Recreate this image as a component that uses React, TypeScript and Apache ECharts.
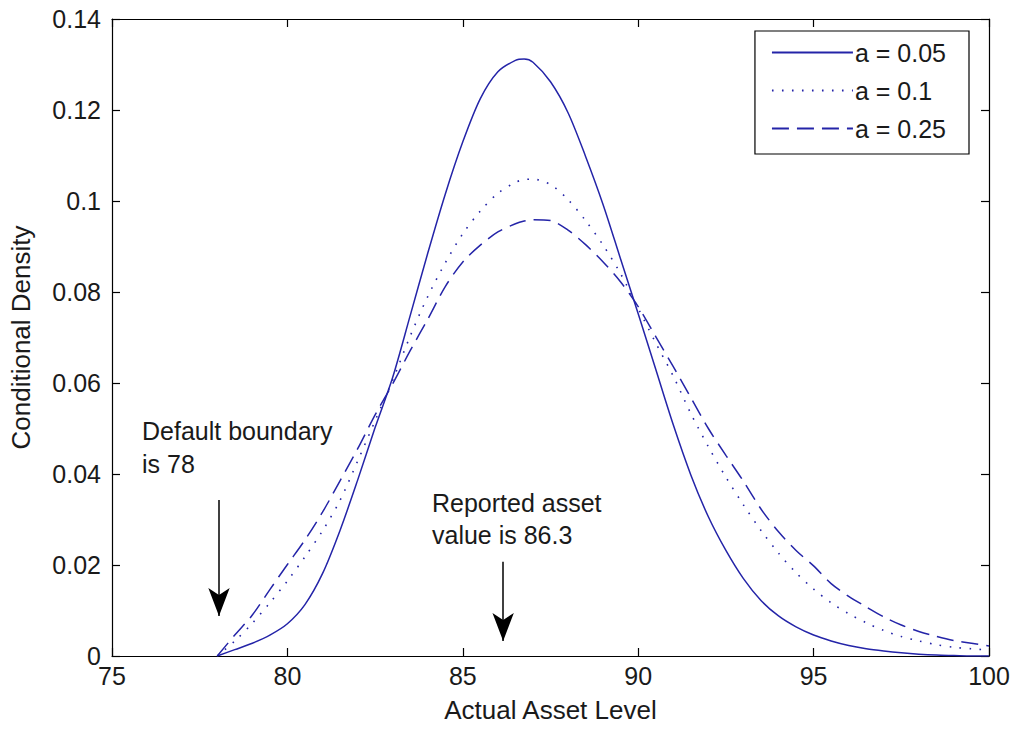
import React, { useEffect, useRef } from "react";
import * as echarts from "echarts";

// Actual asset level (x) at which the densities were read
const assetLevels = [
  78, 78.5, 79, 79.5, 80, 80.5, 81, 81.5, 82, 82.5, 83, 83.5, 84, 84.5, 85, 85.5,
  86, 86.5, 86.75, 87, 87.5, 88, 88.5, 89, 89.5, 90, 90.5, 91, 91.5, 92, 92.5, 93, 93.5,
  94, 94.5, 95, 95.5, 96, 96.5, 97, 97.5, 98, 98.5, 99, 99.5, 100,
];

// Conditional density, a = 0.05 (solid)
const densityA005 = [
  0, 0.0014, 0.0028, 0.0046, 0.0071, 0.0113, 0.0181, 0.0276, 0.0386, 0.0502,
  0.0612, 0.0748, 0.0885, 0.1015, 0.113, 0.1225, 0.1284, 0.1309, 0.1312, 0.1305, 0.1262,
  0.1194, 0.1098, 0.0992, 0.0872, 0.0752, 0.063, 0.0508, 0.0398, 0.0306, 0.0232,
  0.017, 0.0122, 0.0088, 0.0064, 0.0046, 0.0033, 0.0023, 0.0016, 0.0011, 0.0007,
  0.0004, 0.0002, 0.0001, 0, 0,
];

// Conditional density, a = 0.1 (dotted)
const densityA01 = [
  0, 0.0033, 0.0072, 0.0117, 0.0165, 0.0218, 0.0275, 0.0342, 0.0428, 0.0517,
  0.0606, 0.0703, 0.079, 0.0864, 0.0928, 0.0978, 0.1017, 0.1041, 0.1047, 0.1048, 0.1036,
  0.1003, 0.0957, 0.0903, 0.084, 0.0764, 0.0688, 0.0615, 0.0533, 0.046, 0.0393,
  0.0332, 0.0276, 0.0226, 0.0183, 0.0147, 0.0117, 0.0093, 0.0073, 0.0056, 0.0043,
  0.0033, 0.0025, 0.0019, 0.0016, 0.0013,
];

// Conditional density, a = 0.25 (dashed)
const densityA025 = [
  0, 0.0046, 0.009, 0.0146, 0.0201, 0.0255, 0.0316, 0.0385, 0.0455, 0.053,
  0.0598, 0.0671, 0.074, 0.0812, 0.0866, 0.0903, 0.0932, 0.095, 0.0956, 0.0959, 0.0957,
  0.0936, 0.0904, 0.0866, 0.0822, 0.0768, 0.0702, 0.0636, 0.0568, 0.05, 0.0441,
  0.0384, 0.0323, 0.0273, 0.0232, 0.0198, 0.0159, 0.0131, 0.0108, 0.0086, 0.0068,
  0.0054, 0.0043, 0.0034, 0.0028, 0.0022,
];

const seriesNames = ["a = 0.05", "a = 0.1", "a = 0.25"];

// Annotation arrows: [x, yStart, yEnd]
const defaultArrow = [78.05, 0.0343, 0.0088];
const reportedArrow = [86.15, 0.0207, 0.0033];

const xTicks = { min: 75, max: 100, interval: 5 };
const yTicks = { min: 0, max: 0.14, interval: 0.02 };

const FONT = "'Liberation Sans', Arial, Helvetica, sans-serif";
const TEXT = "#1a1a1a";
const BLUE = "#2424a8";

export default function App() {
  const ref = useRef<HTMLDivElement>(null);

  useEffect(() => {
    document.body.style.margin = "0";
    const chart = echarts.init(ref.current!, null, { renderer: "svg" });

    const axisLine = { show: true, onZero: false, lineStyle: { color: "#000", width: 1.2 } };
    const axisTick = { show: true, inside: true, length: 8, lineStyle: { color: "#000", width: 1.2 } };
    const label = { fontSize: 25, color: TEXT, fontFamily: FONT };

    const toPairs = (ys: number[]) => assetLevels.map((x, i) => [x, ys[i]]);

    const arrowLine = (a: number[]) => [
      { coord: [a[0], a[1]] },
      { coord: [a[0], a[2]] },
    ];

    const option: any = {
      animation: false,
      backgroundColor: "#fff",
      grid: { left: 111, top: 19, width: 878, height: 637, containLabel: false },
      legend: {
        orient: "vertical",
        right: 45,
        top: 31,
        padding: [9, 23, 13, 16],
        itemWidth: 81,
        itemHeight: 25,
        itemGap: 13,
        backgroundColor: "#fff",
        borderColor: "#000",
        borderWidth: 1.2,
        borderRadius: 0,
        selectedMode: false,
        itemStyle: { opacity: 0 },
        textStyle: { fontSize: 25, color: TEXT, fontFamily: FONT, padding: [0, 0, 0, -3] },
        data: seriesNames,
      },
      xAxis: [
        {
          type: "value",
          ...xTicks,
          position: "bottom",
          axisLine,
          axisTick,
          splitLine: { show: false },
          axisLabel: { ...label, margin: 7 },
          name: "Actual Asset Level",
          nameLocation: "middle",
          nameGap: 41,
          nameTextStyle: { ...label, fontSize: 26 },
        },
        {
          type: "value",
          ...xTicks,
          position: "top",
          axisLine,
          axisTick,
          splitLine: { show: false },
          axisLabel: { show: false },
        },
      ],
      yAxis: [
        {
          type: "value",
          ...yTicks,
          position: "left",
          axisLine,
          axisTick,
          splitLine: { show: false },
          axisLabel: { ...label, margin: 11 },
          name: "Conditional Density",
          nameLocation: "middle",
          nameGap: 78,
          nameTextStyle: { ...label, fontSize: 26 },
        },
        {
          type: "value",
          ...yTicks,
          position: "right",
          axisLine,
          axisTick,
          splitLine: { show: false },
          axisLabel: { show: false },
        },
      ],
      series: [
        {
          name: seriesNames[0],
          type: "line",
          data: toPairs(densityA005),
          symbol: "none",
          smooth: 0.3,
          lineStyle: { color: BLUE, width: 1.5, type: "solid" },
          itemStyle: { color: BLUE },
          markLine: {
            silent: true,
            symbol: ["none", "arrow"],
            symbolSize: [16, 28],
            label: { show: false },
            lineStyle: { color: "#000", width: 1.5, type: "solid" },
            itemStyle: { color: "#000" },
            data: [arrowLine(defaultArrow), arrowLine(reportedArrow)],
          },
        },
        {
          name: seriesNames[1],
          type: "line",
          data: toPairs(densityA01),
          symbol: "none",
          smooth: 0.3,
          lineStyle: { color: BLUE, width: 1.6, type: [1.6, 8.4] },
          itemStyle: { color: BLUE },
        },
        {
          name: seriesNames[2],
          type: "line",
          data: toPairs(densityA025),
          symbol: "none",
          smooth: 0.3,
          lineStyle: { color: BLUE, width: 1.5, type: [17, 8] },
          itemStyle: { color: BLUE },
        },
      ],
      graphic: [
        {
          type: "text",
          left: 142,
          top: 414,
          silent: true,
          style: {
            text: "Default boundary\nis 78",
            font: `25px ${FONT}`,
            fill: TEXT,
            lineHeight: 33,
          },
        },
        {
          type: "text",
          left: 432,
          top: 487,
          silent: true,
          style: {
            text: "Reported asset\nvalue is 86.3",
            font: `25px ${FONT}`,
            fill: TEXT,
            lineHeight: 32,
          },
        },
      ],
    };

    chart.setOption(option);
    return () => chart.dispose();
  }, []);

  return <div ref={ref} style={{ width: 1014, height: 729 }} />;
}
